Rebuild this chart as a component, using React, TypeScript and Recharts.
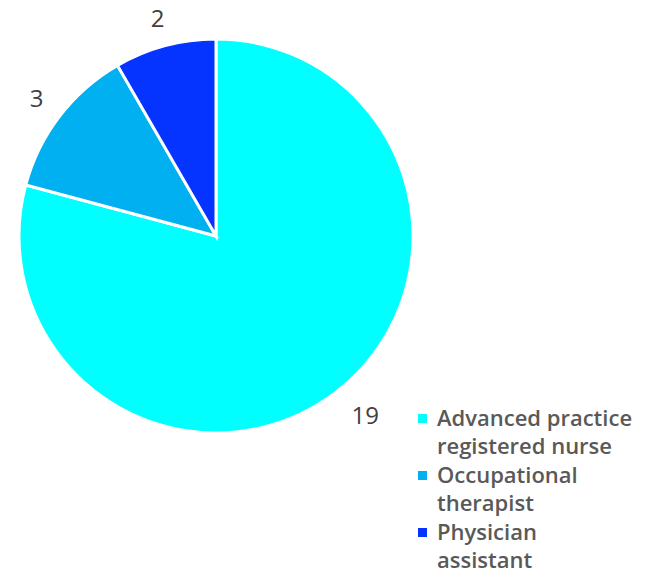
import React from 'react';
import { PieChart, Pie, Cell, Legend } from 'recharts';

const categories = ['Advanced practice registered nurse', 'Occupational therapist', 'Physician assistant'];
const values = [19, 3, 2];
const colors = ['#00FFFF', '#00B0F0', '#0533FF'];

const data = categories.map((name, i) => ({ name, value: values[i] }));

const RADIAN = Math.PI / 180;

const renderLabel = (props: any) => {
  const { cx, cy, midAngle, value } = props;
  const r = 226;
  const x = cx + r * Math.cos(-midAngle * RADIAN);
  const y = cy + r * Math.sin(-midAngle * RADIAN);
  const right = x > cx;
  return (
    <text x={right ? x - 2 : x} y={y} dy={9} fill="#404040" fontSize={24} fontFamily="'Open Sans', Arial, sans-serif" textAnchor={right ? 'start' : 'middle'}>
      {value}
    </text>
  );
};

const splitName = (name: string) => {
  const words = name.split(' ');
  const k = Math.ceil(words.length / 2);
  return [words.slice(0, k).join(' '), words.slice(k).join(' ')];
};

const renderLegend = () => (
  <div style={{ fontFamily: "'Open Sans', Arial, sans-serif", fontWeight: 600, fontSize: 22, color: '#595959', lineHeight: '27.5px' }}>
    {categories.map((c, i) => (
      <div key={c} style={{ display: 'flex', alignItems: 'flex-start', marginBottom: i < categories.length - 1 ? 2 : 0 }}>
        <div style={{ width: 9, height: 9, background: colors[i], marginTop: 10, marginRight: 10, flexShrink: 0 }} />
        <div style={{ whiteSpace: 'nowrap' }}>
          {splitName(c).map((line) => (
            <div key={line}>{line}</div>
          ))}
        </div>
      </div>
    ))}
  </div>
);

export default function App() {
  return (
    <div style={{ position: 'absolute', left: 0, top: 0 }}>
      <PieChart width={656} height={575} margin={{ top: 0, right: 0, bottom: 0, left: 0 }}>
        <Pie
          data={data}
          dataKey="value"
          nameKey="name"
          cx={216}
          cy={236}
          outerRadius={197}
          startAngle={90}
          endAngle={-270}
          stroke="#FFFFFF"
          strokeWidth={3}
          label={renderLabel}
          labelLine={false}
          isAnimationActive={false}
        >
          {data.map((d, i) => (
            <Cell key={d.name} fill={colors[i]} />
          ))}
        </Pie>
        <Legend content={renderLegend} wrapperStyle={{ position: 'absolute', left: 418, top: 404, width: 240 }} />
      </PieChart>
    </div>
  );
}
